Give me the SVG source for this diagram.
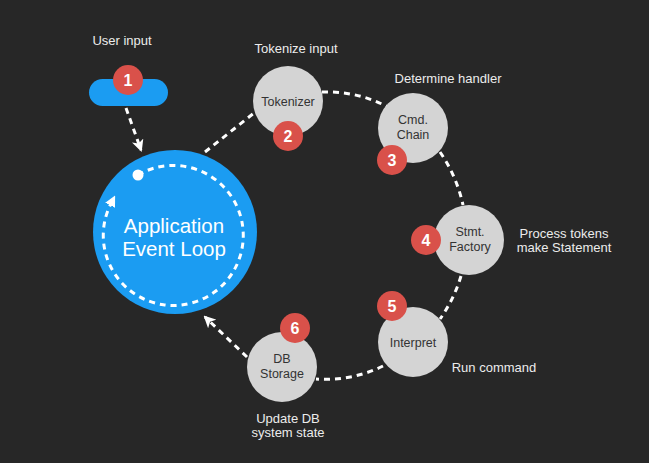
<svg xmlns="http://www.w3.org/2000/svg" width="649" height="463" viewBox="0 0 649 463">
<defs>
<style>
.bg{fill:#272727}
.node{fill:#d4d4d4}
.badge{fill:#d9514a}
.num{fill:#fff;font-family:"Liberation Sans",Arial,sans-serif;font-size:16px;font-weight:bold;text-anchor:middle}
.ntext{fill:#333;font-family:"Liberation Sans",Arial,sans-serif;font-size:12.5px;text-anchor:middle}
.label{fill:#ececec;font-family:"Liberation Sans",Arial,sans-serif;font-size:13px;text-anchor:middle}
.big{fill:#fff;font-family:"Liberation Sans",Arial,sans-serif;font-size:20.5px;text-anchor:middle}
.dash{fill:none;stroke:#fff;stroke-width:3;stroke-dasharray:6 5}
</style>
<marker id="arr" viewBox="0 0 12 12" refX="10" refY="6" markerWidth="12" markerHeight="12" markerUnits="userSpaceOnUse" orient="auto">
<path d="M0,0 L12,6 L0,12 L3,6 Z" fill="#fff"/>
</marker>
<marker id="tri" viewBox="0 0 10 10" refX="2" refY="5" markerWidth="11" markerHeight="11" markerUnits="userSpaceOnUse" orient="auto">
<path d="M0,0 L10,5 L0,10 Z" fill="#fff"/>
</marker>
</defs>
<rect class="bg" x="0" y="0" width="649" height="463"/>

<g id="connectors">
<path class="dash" d="M126,108 L141,150" marker-end="url(#arr)"/>
<path class="dash" d="M205,152 L254,113"/>
<path class="dash" d="M322,92 A137,145 0 0 1 388,107"/>
<path class="dash" d="M440,152 A137,145 0 0 1 463,205"/>
<path class="dash" d="M461,276 A137,145 0 0 1 440,319"/>
<path class="dash" d="M383,366 A137,145 0 0 1 316,379"/>
<path class="dash" d="M247,357 L205,317" marker-end="url(#arr)"/>
</g>

<g id="user-input">
<text class="label" x="122" y="45">User input</text>
<rect x="89" y="79" width="79" height="27" rx="13.5" fill="#1b9cf2"/>
<circle class="badge" cx="128" cy="80" r="15"/>
<text class="num" x="128" y="86">1</text>
</g>

<g id="event-loop">
<circle cx="175" cy="232" r="82" fill="#1b9cf2"/>
<path class="dash" d="M138,175 A70,70 0 1 1 111.1,203.3" marker-end="url(#tri)"/>
<circle cx="138" cy="175" r="5.5" fill="#fff"/>
<text class="big" x="174" y="233">Application</text>
<text class="big" x="174" y="256">Event Loop</text>
</g>

<g id="tokenizer">
<text class="label" x="296" y="53">Tokenize input</text>
<circle class="node" cx="288" cy="101" r="35"/>
<text class="ntext" x="288" y="106">Tokenizer</text>
<circle class="badge" cx="288" cy="136" r="15"/>
<text class="num" x="288" y="142">2</text>
</g>

<g id="cmd-chain">
<text class="label" x="448" y="83">Determine handler</text>
<circle class="node" cx="413" cy="128" r="35"/>
<text class="ntext" x="413" y="124">Cmd.</text>
<text class="ntext" x="413" y="138.5">Chain</text>
<circle class="badge" cx="392" cy="160" r="15"/>
<text class="num" x="392" y="166">3</text>
</g>

<g id="stmt-factory">
<circle class="node" cx="469" cy="240" r="35"/>
<text class="ntext" x="470" y="236">Stmt.</text>
<text class="ntext" x="470" y="250.5">Factory</text>
<circle class="badge" cx="426" cy="240" r="15"/>
<text class="num" x="426" y="246">4</text>
<text class="label" x="564" y="238">Process tokens</text>
<text class="label" x="564" y="252">make Statement</text>
</g>

<g id="interpret">
<circle class="node" cx="413" cy="342" r="35"/>
<text class="ntext" x="413" y="347">Interpret</text>
<circle class="badge" cx="392" cy="306" r="15"/>
<text class="num" x="392" y="312">5</text>
<text class="label" x="494" y="372">Run command</text>
</g>

<g id="db-storage">
<circle class="node" cx="282" cy="367" r="35"/>
<text class="ntext" x="282" y="363">DB</text>
<text class="ntext" x="282" y="377.5">Storage</text>
<circle class="badge" cx="295" cy="328" r="15"/>
<text class="num" x="295" y="334">6</text>
<text class="label" x="288" y="423">Update DB</text>
<text class="label" x="288" y="437">system state</text>
</g>
</svg>
